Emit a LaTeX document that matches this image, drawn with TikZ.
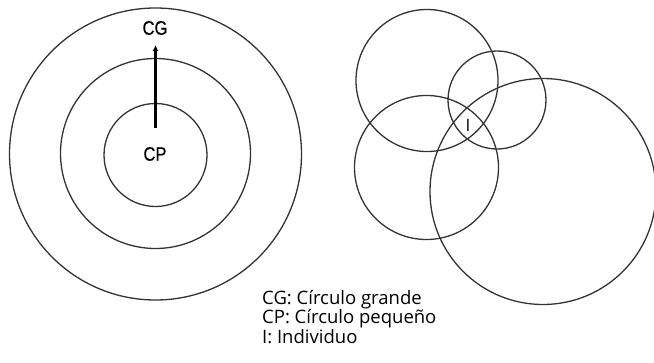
\documentclass[tikz,border=0pt]{standalone}
\usepackage{fontspec}
\setmainfont{Open Sans}
\newfontfamily\labfont[FakeStretch=0.85,FakeBold=0.6]{Liberation Sans}
\usetikzlibrary{arrows.meta}
\begin{document}
\begin{tikzpicture}[x=1pt,y=-1pt,
  circ/.style={draw=black!80,line width=1.3pt},
  lab/.style={font=\labfont\fontsize{19.5}{19.5}\selectfont,inner sep=0pt},
  legend/.style={font=\fontsize{18.5}{19.5}\selectfont,inner sep=0pt,anchor=north west,align=left}]
\useasboundingbox (0,0) rectangle (654,362);
% left concentric circles
\node[circ,circle,minimum size=292pt,inner sep=0pt] (cg) at (155.5,154) {};
\node[circ,circle,minimum size=190pt,inner sep=0pt] (cm) at (155.5,153.5) {};
\node[circ,circle,minimum size=103pt,inner sep=0pt] (cp) at (155.5,155) {};
\node[lab] (cglab) at (155,28) {CG};
\node[lab] (cplab) at (155,154) {CP};
\coordinate (astart) at (155.5,128);
\coordinate (aend) at (155.5,45);
\draw[line width=3pt,-{Latex[length=6pt,width=6pt]}] (astart) -- (aend);
% right overlapping circles
\node[circ,circle,minimum size=142pt,inner sep=0pt] (c1) at (427,80.5) {};
\node[circ,circle,minimum size=98pt,inner sep=0pt] (c2) at (497,100) {};
\node[circ,circle,minimum size=144pt,inner sep=0pt] (c3) at (426.5,167.5) {};
\node[circ,circle,minimum size=226pt,inner sep=0pt] (c4) at (543,191.5) {};
\node[font=\fontsize{17}{17}\selectfont,inner sep=0pt] (ind) at (468,125) {I};
% legend
\node[legend] (leg) at (262,290) {CG: Círculo grande\\CP: Círculo pequeño\\I: Individuo};
\end{tikzpicture}
\end{document}
